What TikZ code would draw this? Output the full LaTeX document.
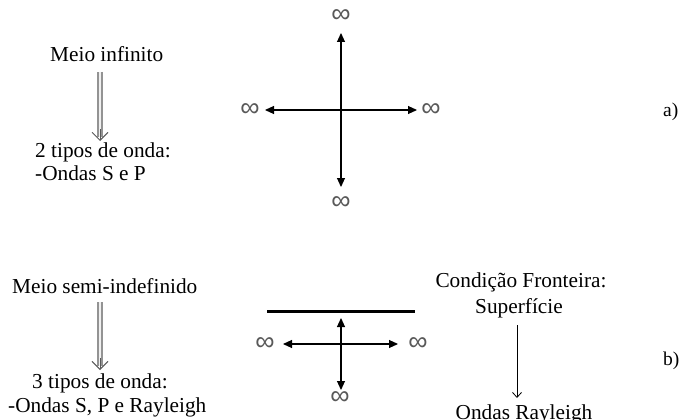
\documentclass[tikz,border=0pt]{standalone}
\usepackage{fontspec}
\setmainfont{Liberation Serif}
\newfontfamily\infsym{Liberation Sans}
\usetikzlibrary{arrows.meta}
\begin{document}
\begin{tikzpicture}[x=1pt,y=-1pt,
  txt/.style={inner sep=0pt,font=\fontsize{21.3}{24}\selectfont},
  lbl/.style={inner sep=0pt,font=\fontsize{19.5}{22}\selectfont},
  inf/.style={inner sep=0pt,text=black!65,font=\infsym\fontsize{27}{28}\selectfont},
  arr/.style={line width=1.1pt,{Triangle[length=9pt,width=8pt]}-{Triangle[length=9pt,width=8pt]}},
  thinarr/.style={line width=0.8pt,-{Straight Barb[length=5pt,width=9pt]}},
  dblshaft/.style={draw=gray!85,double=gray!12,double distance=2.4pt,line width=1.9pt},
  dblhead/.style={draw=black!65,line width=0.9pt,-{Straight Barb[length=8pt,width=16pt]}},
  surface/.style={line width=3pt}]
\clip (0,0) rectangle (683,420);
\fill[white] (0,0) rectangle (683,420);
% ---------- panel a ----------
\node[txt,anchor=base west] (m1) at (50,62) {Meio infinito};
\node[txt,anchor=base west] (t1) at (35,157) {2 tipos de onda:};
\node[txt,anchor=base west] (o1) at (35,180) {-Ondas S e P};
\coordinate (d1s) at (100,72);
\coordinate (d1m) at (100,137);
\coordinate (d1h) at (100,129);
\coordinate (d1e) at (100,141);
\draw[dblshaft] (d1s) -- (d1m);
\draw[dblhead] (d1h) -- (d1e);

\node[inf] (iaT) at (341,16) {∞};
\node[inf] (iaB) at (341,203) {∞};
\node[inf] (iaL) at (250,110) {∞};
\node[inf] (iaR) at (431,110) {∞};
\coordinate (aT) at (341,33);
\coordinate (aB) at (341,187);
\coordinate (aL) at (265,110);
\coordinate (aR) at (417,110);
\draw[arr] (aT) -- (aB);
\draw[arr] (aL) -- (aR);
\node[lbl,anchor=base west] (la) at (663,117) {a)};

% ---------- panel b ----------
\node[txt,anchor=base west] (m2) at (12,293) {Meio semi-indefinido};
\node[txt,anchor=base west] (t2) at (32,388) {3 tipos de onda:};
\node[txt,anchor=base west] (o2) at (8,412) {-Ondas S, P e Rayleigh};
\coordinate (d2s) at (100,302);
\coordinate (d2m) at (100,366);
\coordinate (d2h) at (100,358);
\coordinate (d2e) at (100,370);
\draw[dblshaft] (d2s) -- (d2m);
\draw[dblhead] (d2h) -- (d2e);

\coordinate (sL) at (267,311);
\coordinate (sR) at (415,311);
\draw[surface] (sL) -- (sR);
\node[inf] (ibL) at (265,344) {∞};
\node[inf] (ibR) at (418,344) {∞};
\node[inf] (ibB) at (340,398) {∞};
\coordinate (bT) at (341,318);
\coordinate (bB) at (341,390);
\coordinate (bL) at (283,344);
\coordinate (bR) at (398,344);
\draw[arr] (bT) -- (bB);
\draw[arr] (bL) -- (bR);

\node[txt,anchor=base] (cf) at (521,287) {Condição Fronteira:};
\node[txt,anchor=base] (sp) at (519,313) {Superfície};
\node[txt,anchor=base] (orl) at (524,419) {Ondas Rayleigh};
\coordinate (rs) at (517,325);
\coordinate (re) at (517,398);
\draw[thinarr] (rs) -- (re);
\node[lbl,anchor=base west] (lb) at (663,365) {b)};
\end{tikzpicture}
\end{document}
